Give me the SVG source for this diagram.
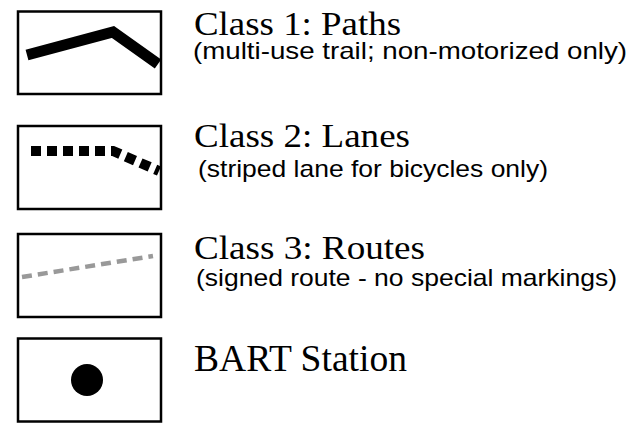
<svg xmlns="http://www.w3.org/2000/svg" width="637" height="433" viewBox="0 0 637 433">
<style>
.box{fill:#fff;stroke:#000;stroke-width:2.5}
.title{font-family:"Liberation Serif","Times New Roman",serif;font-size:33px;fill:#000}
.sub{font-family:"Liberation Sans",Arial,sans-serif;font-size:24px;fill:#000}
</style>
<rect width="637" height="433" fill="#fff"/>
<g id="class1">
<rect class="box" x="18" y="11.5" width="143" height="82.5"/>
<polyline points="27,55 113,32 158,64" fill="none" stroke="#000" stroke-width="11"/>
<text class="title" x="194" y="35" textLength="207" lengthAdjust="spacingAndGlyphs">Class 1: Paths</text>
<text class="sub" x="193" y="59" textLength="434" lengthAdjust="spacingAndGlyphs">(multi-use trail; non-motorized only)</text>
</g>
<g id="class2">
<rect class="box" x="18" y="126" width="143" height="83"/>
<polyline points="31,151 113,151 159,171" fill="none" stroke="#000" stroke-width="10" stroke-dasharray="10,6"/>
<text class="title" x="194" y="147" textLength="216" lengthAdjust="spacingAndGlyphs">Class 2: Lanes</text>
<text class="sub" x="198" y="177" textLength="350" lengthAdjust="spacingAndGlyphs">(striped lane for bicycles only)</text>
</g>
<g id="class3">
<rect class="box" x="18" y="234" width="143" height="83"/>
<line x1="22" y1="277" x2="153" y2="256" stroke="#999" stroke-width="4.5" stroke-dasharray="10,6"/>
<text class="title" x="194" y="259" textLength="231" lengthAdjust="spacingAndGlyphs">Class 3: Routes</text>
<text class="sub" x="196" y="286" textLength="421" lengthAdjust="spacingAndGlyphs">(signed route - no special markings)</text>
</g>
<g id="bart">
<rect class="box" x="18" y="338.5" width="143" height="83"/>
<circle cx="87" cy="380" r="16" fill="#000"/>
<text class="title" x="194" y="371" style="font-size:37px" textLength="213" lengthAdjust="spacingAndGlyphs">BART Station</text>
</g>
<g id="connectors"/>
</svg>
